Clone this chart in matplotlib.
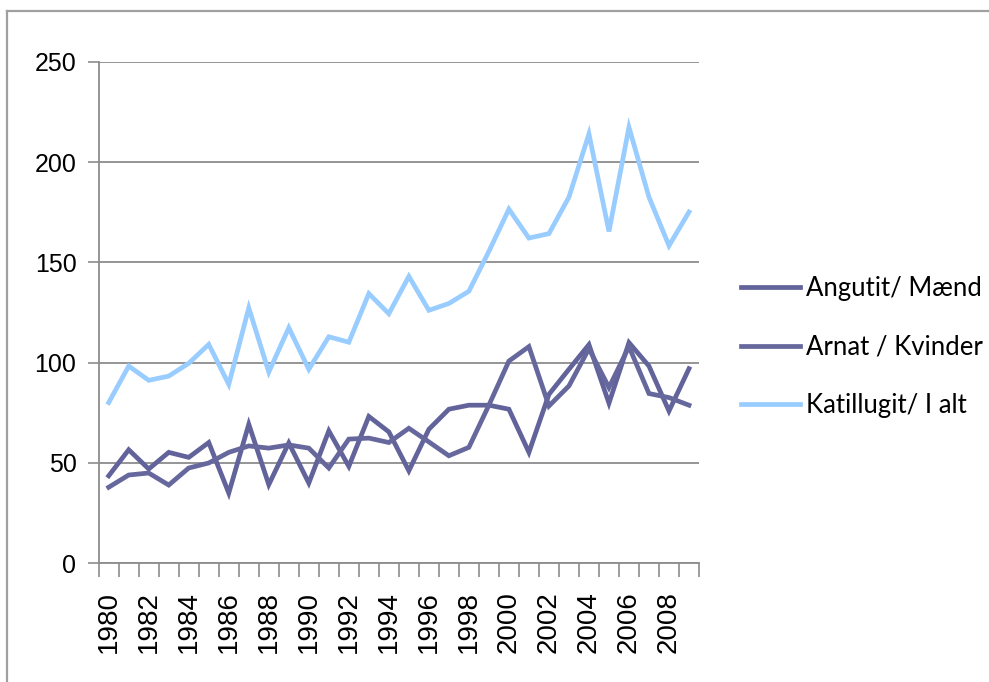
import matplotlib
matplotlib.use("Agg")
import matplotlib.pyplot as plt
from matplotlib.lines import Line2D

years = list(range(1980, 2010))
angutit = [43.6, 56.6, 47.0, 55.3, 52.8, 60.2, 35.0, 69.3, 39.2, 60.0,
           40.0, 66.0, 48.3, 73.2, 65.5, 46.1, 66.8, 76.8, 78.8, 78.8,
           76.8, 55.3, 84.2, 96.7, 109.0, 79.8, 110.0, 98.3, 75.9, 97.0]
arnat = [37.9, 44.0, 45.0, 39.0, 47.5, 50.0, 55.3, 58.5, 57.4, 59.0,
         57.4, 47.5, 61.9, 62.4, 60.2, 67.3, 60.5, 53.6, 57.8, 78.8,
         100.8, 108.0, 78.4, 88.4, 107.0, 87.6, 108.0, 84.6, 82.6, 78.8]
katillugit = [80.1, 98.3, 91.2, 93.3, 99.7, 109.1, 89.2, 127.3, 95.3, 117.4,
              96.7, 112.9, 110.2, 134.4, 124.4, 143.0, 126.1, 129.5, 135.6, 155.5,
              176.5, 162.1, 164.3, 182.5, 214.0, 165.4, 217.3, 182.5, 158.3, 175.1]
labels = ["Angutit/ Mænd", "Arnat / Kvinder", "Katillugit/ I alt"]
colors = ["#62639A", "#66679C", "#99CCFF"]
yticks = [0, 50, 100, 150, 200, 250]

W, H = 989, 682
fig = plt.figure(figsize=(W / 100, H / 100), dpi=100)
ax = fig.add_axes([98.7 / W, 1 - 563.3 / H, (699 - 98.7) / W, (563.3 - 61.7) / H])

x = list(range(len(years)))
for series, c, lab in zip([angutit, arnat, katillugit], colors, labels):
    ax.plot(x, series, color=c, lw=3.4, label=lab, solid_joinstyle="miter", zorder=3)

grid_c = "#8C8C8C"
ax.set_ylim(0, 250)
ax.set_xlim(-0.5, len(years) - 0.5)
ax.set_yticks(yticks)
ax.set_yticklabels([str(v) for v in yticks], fontfamily="Liberation Sans", fontsize=18)
ax.yaxis.grid(True, color=grid_c, lw=1.3)
ax.set_axisbelow(True)
ax.tick_params(axis="y", length=8, width=1.2, color=grid_c, pad=8)

# category boundary ticks (major, unlabeled) and labels at even years (minor, no tick)
ax.set_xticks([i - 0.5 for i in range(len(years) + 1)])
ax.set_xticklabels([])
ax.tick_params(axis="x", which="major", length=10, width=1.2, color=grid_c)
ax.set_xticks(x[::2], minor=True)
ax.set_xticklabels([str(y) for y in years[::2]], minor=True, rotation=90,
                   fontfamily="Liberation Sans", fontsize=20)
ax.tick_params(axis="x", which="minor", length=0, pad=20)

for s in ["top", "right"]:
    ax.spines[s].set_visible(False)
for s in ["left", "bottom"]:
    ax.spines[s].set_color(grid_c)
    ax.spines[s].set_linewidth(1.3)

leg = ax.legend(loc="center left", bbox_to_anchor=(718 / W, 1 - 347 / H),
                bbox_transform=fig.transFigure, frameon=False,
                prop={"family": "Lato", "size": 18.5}, handlelength=2.3,
                handletextpad=0.22, labelspacing=1.3)

# outer chart-area border (top and left only visible)
fig.add_artist(Line2D([7 / W, 1], [1 - 11 / H, 1 - 11 / H], color="#A0A0A0", lw=1.6,
                      transform=fig.transFigure))
fig.add_artist(Line2D([7 / W, 7 / W], [0, 1 - 11 / H], color="#A0A0A0", lw=1.6,
                      transform=fig.transFigure))

fig.savefig("out.png", dpi=100)
